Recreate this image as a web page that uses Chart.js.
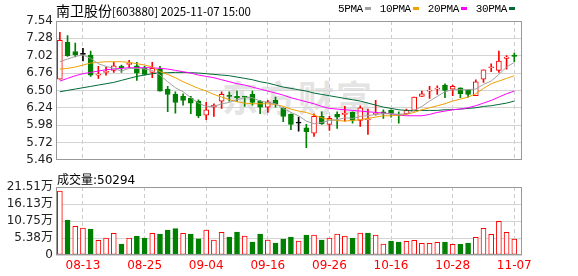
<!DOCTYPE html>
<html>
<head>
<meta charset="utf-8">
<script src="https://cdn.jsdelivr.net/npm/chart.js@4.4.1/dist/chart.umd.min.js"></script>
<style>
  body { margin: 0; background: #fff; }
  #wrap { position: relative; width: 578px; height: 276px; overflow: hidden; }
  canvas { position: absolute; left: 0; }
  #price { top: 0; }
  #vol { top: 170px; }
  .txt { position: absolute; white-space: nowrap; color: #000; }
  #wm { left: 222px; top: 70px; font: bold 36px 'Noto Sans CJK SC'; color: #e4e4e4; letter-spacing: 2px; }
  #title { left: 56px; top: 0; height: 18px; line-height: 18px; }
  #title .cj { font: 14px 'Noto Sans CJK SC'; }
  #title .as { font: 11.5px 'Noto Sans CJK SC'; }
  #legend { left: 338px; top: 1px; font: 11px 'Liberation Mono'; line-height: 16px; letter-spacing: -0.4px; }
  #legend i { display: inline-block; width: 6px; height: 3px; margin: 0 9px 2px 2px; vertical-align: middle; }
  #vlabel { left: 57px; top: 170px; line-height: 14px; }
  #vlabel .cj { font: 12px 'Noto Sans CJK SC'; }
  #vlabel .as { font: 12px 'DejaVu Sans'; }
</style>
</head>
<body>
<div id="wrap">
  <div class="txt" id="wm">东方财富</div>
  <canvas id="price" width="578" height="170"></canvas>
  <canvas id="vol" width="578" height="106"></canvas>
  <div class="txt" id="title"><span class="cj">南卫股份</span><span class="as">[603880] 2025-11-07 15:00</span></div>
  <div class="txt" id="legend"></div>
  <div class="txt" id="vlabel"></div>
</div>
<script>
// trading days shown, 08-08 .. 11-07
const dates = [
  '08-08','08-11','08-12','08-13','08-14','08-15','08-18','08-19','08-20','08-21',
  '08-22','08-25','08-26','08-27','08-28','08-29','09-01','09-02','09-03','09-04',
  '09-05','09-08','09-09','09-10','09-11','09-12','09-15','09-16','09-17','09-18',
  '09-19','09-22','09-23','09-24','09-25','09-26','09-29','09-30','10-09','10-10',
  '10-13','10-14','10-15','10-16','10-17','10-20','10-21','10-22','10-23','10-24',
  '10-27','10-28','10-29','10-30','10-31','11-03','11-04','11-05','11-06','11-07'
];

const opens = [
  6.67, 7.22, 7.08, 7.04, 7.03, 6.73, 6.77, 6.80, 6.86, 6.89,
  6.87, 6.84, 6.77, 6.82, 6.52, 6.44, 6.41, 6.38, 6.34, 6.13,
  6.25, 6.34, 6.42, 6.41, 6.41, 6.44, 6.34, 6.25, 6.35, 6.23,
  6.14, 6.01, 5.94, 5.86, 6.11, 5.99, 6.14, 6.14, 6.17, 6.05,
  6.06, 6.14, 6.18, 6.20, 6.14, 6.15, 6.20, 6.41, 6.49, 6.52,
  6.58, 6.52, 6.54, 6.51, 6.42, 6.67, 6.84, 6.80, 6.98, 7.03
];
const highs = [
  7.37, 7.32, 7.21, 7.13, 7.09, 6.86, 6.85, 6.92, 6.88, 6.95,
  6.92, 6.86, 6.92, 6.86, 6.56, 6.48, 6.45, 6.41, 6.36, 6.32,
  6.30, 6.48, 6.48, 6.49, 6.41, 6.49, 6.35, 6.35, 6.40, 6.24,
  6.15, 6.10, 5.99, 6.15, 6.18, 6.11, 6.18, 6.26, 6.18, 6.27,
  6.22, 6.35, 6.21, 6.21, 6.18, 6.22, 6.40, 6.49, 6.56, 6.57,
  6.60, 6.58, 6.54, 6.51, 6.66, 6.81, 6.90, 7.09, 7.02, 7.06
];
const lows = [
  6.67, 7.01, 7.00, 6.94, 6.71, 6.68, 6.73, 6.77, 6.77, 6.84,
  6.65, 6.73, 6.69, 6.49, 6.18, 6.16, 6.28, 6.15, 6.09, 6.06,
  6.11, 6.23, 6.34, 6.33, 6.26, 6.28, 6.15, 6.17, 6.25, 6.03,
  5.91, 5.89, 5.64, 5.81, 5.99, 5.90, 5.93, 6.04, 6.01, 5.96,
  5.84, 6.13, 6.08, 6.10, 6.01, 6.14, 6.19, 6.41, 6.38, 6.44,
  6.39, 6.42, 6.39, 6.40, 6.42, 6.62, 6.78, 6.77, 6.82, 6.93
];
const closes = [
  7.25, 7.02, 7.03, 7.04, 6.73, 6.74, 6.78, 6.87, 6.84, 6.90,
  6.76, 6.74, 6.83, 6.49, 6.44, 6.32, 6.35, 6.31, 6.12, 6.21,
  6.28, 6.44, 6.41, 6.39, 6.40, 6.32, 6.25, 6.33, 6.30, 6.11,
  5.99, 6.01, 5.88, 6.11, 6.00, 6.08, 6.10, 6.15, 6.05, 6.24,
  6.07, 6.15, 6.16, 6.15, 6.13, 6.20, 6.40, 6.45, 6.50, 6.53,
  6.50, 6.56, 6.45, 6.44, 6.63, 6.81, 6.85, 6.94, 7.00, 7.01
];
const volumes = [
  202400, 110700, 90800, 85400, 82200, 46500, 53800, 68600, 34800, 53800,
  60100, 53800, 68600, 66400, 79100, 83200, 68600, 66400, 51000, 79100,
  47400, 71700, 56900, 72700, 60100, 41100, 66400, 47400, 38000, 50600,
  56900, 44300, 63300, 63300, 47400, 53800, 66400, 60100, 53800, 69600,
  69600, 63300, 34800, 44300, 41100, 43300, 46500, 37000, 37000, 40200,
  41100, 33800, 33800, 38000, 56000, 84400, 65500, 106600, 71800, 50294
];

const ma5 = [
  6.93, 6.97, 7.01, 7.03, 6.98, 6.90, 6.86, 6.83, 6.79, 6.83,
  6.83, 6.82, 6.80, 6.73, 6.63, 6.54, 6.48, 6.39, 6.31, 6.26,
  6.26, 6.30, 6.32, 6.36, 6.39, 6.39, 6.34, 6.32, 6.30, 6.23,
  6.17, 6.12, 6.04, 6.00, 6.02, 6.05, 6.06, 6.09, 6.08, 6.11,
  6.12, 6.14, 6.15, 6.15, 6.14, 6.15, 6.20, 6.26, 6.34, 6.41,
  6.48, 6.51, 6.51, 6.51, 6.52, 6.59, 6.64, 6.74, 6.85, 6.92
];
const ma10 = [
  6.82, 6.83, 6.85, 6.88, 6.91, 6.92, 6.93, 6.93, 6.93, 6.92,
  6.90, 6.88, 6.85, 6.78, 6.74, 6.69, 6.63, 6.58, 6.53, 6.49,
  6.44, 6.40, 6.36, 6.33, 6.31, 6.30, 6.30, 6.30, 6.29, 6.26,
  6.22, 6.19, 6.17, 6.13, 6.09, 6.06, 6.05, 6.04, 6.05, 6.06,
  6.08, 6.10, 6.12, 6.12, 6.13, 6.14, 6.17, 6.21, 6.24, 6.27,
  6.30, 6.34, 6.37, 6.40, 6.45, 6.53, 6.60, 6.64, 6.68, 6.72
];
const ma20 = [
  6.64, 6.68, 6.72, 6.75, 6.77, 6.79, 6.81, 6.82, 6.83, 6.84,
  6.84, 6.84, 6.84, 6.83, 6.82, 6.80, 6.78, 6.76, 6.73, 6.71,
  6.69, 6.66, 6.63, 6.60, 6.58, 6.55, 6.52, 6.49, 6.46, 6.43,
  6.39, 6.36, 6.33, 6.30, 6.26, 6.23, 6.22, 6.21, 6.20, 6.19,
  6.18, 6.17, 6.16, 6.15, 6.13, 6.12, 6.12, 6.12, 6.14, 6.17,
  6.19, 6.21, 6.22, 6.24, 6.27, 6.31, 6.35, 6.40, 6.45, 6.49
];
const ma30 = [
  6.48, 6.50, 6.52, 6.54, 6.56, 6.58, 6.60, 6.62, 6.65, 6.68,
  6.71, 6.73, 6.75, 6.76, 6.765, 6.77, 6.77, 6.765, 6.76, 6.75,
  6.74, 6.73, 6.72, 6.70, 6.68, 6.66, 6.63, 6.61, 6.58, 6.55,
  6.53, 6.51, 6.49, 6.46, 6.44, 6.42, 6.40, 6.38, 6.36, 6.34,
  6.31, 6.28, 6.25, 6.23, 6.21, 6.20, 6.20, 6.20, 6.20, 6.20,
  6.21, 6.21, 6.22, 6.23, 6.24, 6.26, 6.27, 6.29, 6.31, 6.34
];

const maNames = ['5PMA', '10PMA', '20PMA', '30PMA'];
const maColors = ['#a0a0a0', '#f0a000', '#ff00ff', '#006a35'];
const priceTicks = [5.46, 5.72, 5.98, 6.24, 6.50, 6.76, 7.02, 7.28, 7.54];
const volTicks = [0, 53765, 107530, 161295, 215060];
const volTickLabels = ['0', '5.38万', '10.75万', '16.13万', '21.51万'];
const dateTicks = ['08-13', '08-25', '09-04', '09-16', '09-26', '10-16', '10-28', '11-07'];

const RED = '#ff0000', GREEN = '#008000', FLAT = '#000000';
const AXIS_FONT = "'DejaVu Sans', 'Noto Sans CJK SC'";

function candleColor(i) {
  if (closes[i] > opens[i]) return RED;
  if (closes[i] < opens[i]) return GREEN;
  return FLAT;
}
function volUp(i) {
  const prev = i > 0 ? closes[i - 1] : opens[i];
  return closes[i] >= prev;
}

// box around the plot area
const framePlugin = {
  id: 'frame',
  afterDraw(chart) {
    const { ctx, chartArea: a } = chart;
    ctx.save();
    ctx.strokeStyle = '#999';
    ctx.lineWidth = 1;
    ctx.strokeRect(Math.round(a.left) + 0.5, Math.round(a.top) + 0.5,
      Math.round(a.right - a.left) - 1, Math.round(a.bottom - a.top) - 1);
    ctx.restore();
  }
};

function xAxis(showLabels) {
  return {
    type: 'linear',
    min: -0.5,
    max: dates.length,
    offset: false,
    afterBuildTicks: s => { s.ticks = dateTicks.map(d => ({ value: dates.indexOf(d) })); },
    afterFit: s => { s.height = showLabels ? 21 : 0; },
    grid: { color: '#cccccc', drawTicks: false, offset: false },
    border: { display: false, dash: [4, 3] },
    ticks: {
      display: showLabels, autoSkip: false, maxRotation: 0, padding: 4,
      color: RED, font: { family: AXIS_FONT, size: 12 },
      callback: v => dates[v]
    }
  };
}

function yAxis(ticks, labelFn) {
  return {
    type: 'linear',
    min: ticks[0],
    max: ticks[ticks.length - 1],
    afterBuildTicks: s => { s.ticks = ticks.map(v => ({ value: v })); },
    afterFit: s => { s.width = 56; },
    grid: { color: '#d4d4d4', drawTicks: false },
    border: { display: false },
    ticks: {
      autoSkip: false, padding: 3, color: '#222',
      font: { family: AXIS_FONT, size: 12 }, callback: labelFn
    }
  };
}

const maSeries = [ma5, ma10, ma20, ma30];
const lineSets = maSeries.map((arr, k) => ({
  type: 'line',
  label: maNames[k],
  data: arr.map((v, i) => ({ x: i, y: v })),
  borderColor: maColors[k],
  borderWidth: 1,
  pointRadius: 0,
  tension: 0,
  order: 0
}));

new Chart(document.getElementById('price'), {
  type: 'bar',
  data: {
    datasets: [
      ...lineSets,
      {
        label: 'body',
        data: opens.map((o, i) => ({ x: i, y: [o, closes[i]] })),
        barThickness: 5,
        minBarLength: 1,
        grouped: false,
        borderWidth: 1,
        borderSkipped: false,
        borderColor: c => candleColor(c.dataIndex),
        backgroundColor: c => (closes[c.dataIndex] > opens[c.dataIndex] ? '#ffffff' : candleColor(c.dataIndex)),
        order: 1
      },
      {
        label: 'wick',
        data: lows.map((l, i) => ({ x: i, y: [l, highs[i]] })),
        barThickness: 1,
        grouped: false,
        borderWidth: 0,
        backgroundColor: c => candleColor(c.dataIndex),
        order: 2
      }
    ]
  },
  options: {
    responsive: false,
    animation: false,
    layout: { padding: { left: 0, top: 21, right: 56, bottom: 5 } },
    plugins: { legend: { display: false }, tooltip: { enabled: false } },
    scales: {
      x: xAxis(false),
      y: yAxis(priceTicks, v => v.toFixed(2))
    }
  },
  plugins: [framePlugin]
});

new Chart(document.getElementById('vol'), {
  type: 'bar',
  data: {
    datasets: [{
      label: 'vol',
      data: volumes.map((v, i) => ({ x: i, y: v })),
      barThickness: 5,
      grouped: false,
      borderWidth: 1,
      borderSkipped: false,
      borderColor: c => (volUp(c.dataIndex) ? RED : GREEN),
      backgroundColor: c => (volUp(c.dataIndex) ? '#ffffff' : GREEN)
    }]
  },
  options: {
    responsive: false,
    animation: false,
    layout: { padding: { left: 0, top: 17, right: 56, bottom: 0 } },
    plugins: { legend: { display: false }, tooltip: { enabled: false } },
    scales: {
      x: xAxis(true),
      y: yAxis(volTicks, (v, i) => volTickLabels[i])
    }
  },
  plugins: [framePlugin]
});

// legend + volume caption as page text
document.getElementById('legend').innerHTML = maNames
  .map((n, k) => n + '<i style="background:' + maColors[k] + '"></i>').join('');
document.getElementById('vlabel').innerHTML =
  '<span class="cj">成交量</span><span class="as">:' + volumes[volumes.length - 1] + '</span>';
</script>
</body>
</html>
